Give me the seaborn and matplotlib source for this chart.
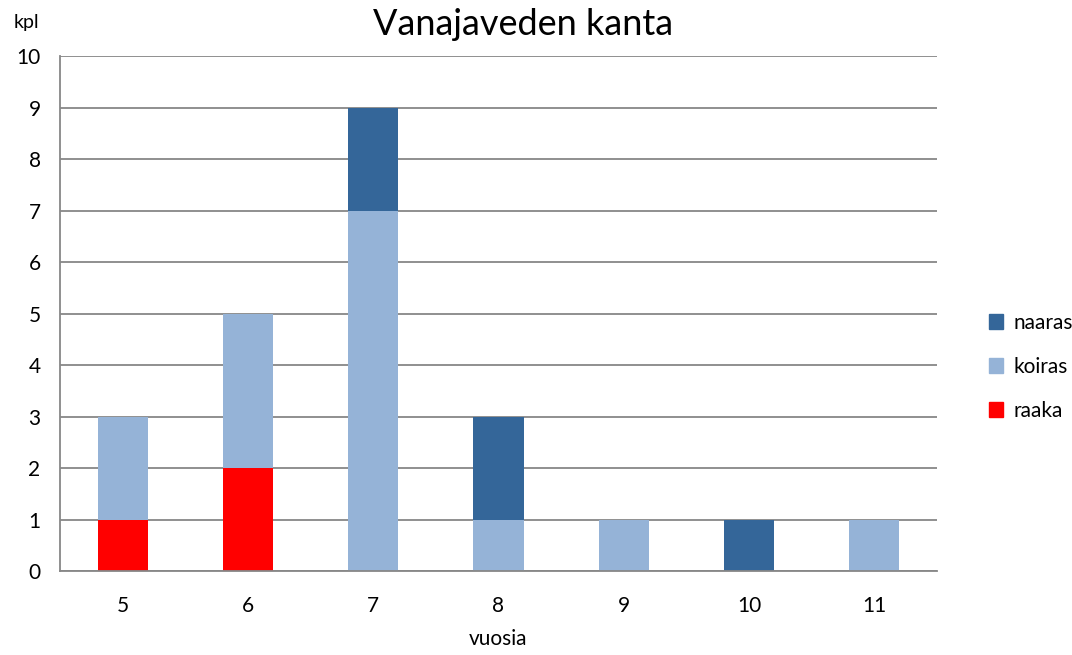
import matplotlib
matplotlib.use("Agg")
import matplotlib.pyplot as plt
import seaborn as sns
import pandas as pd
from matplotlib.patches import Patch

# data
ages = ["5", "6", "7", "8", "9", "10", "11"]
raaka = [1, 2, 0, 0, 0, 0, 0]
koiras = [2, 3, 7, 1, 1, 0, 1]
naaras = [0, 0, 2, 2, 0, 1, 0]

colors = {"naaras": "#346699", "koiras": "#95B3D7", "raaka": "#FF0000"}

sns.set_style("white")
plt.rcParams["font.family"] = ["Lato", "DejaVu Sans"]
plt.rcParams["text.color"] = "black"
plt.rcParams["xtick.labelcolor"] = "black"
plt.rcParams["ytick.labelcolor"] = "black"
plt.rcParams["axes.labelcolor"] = "black"

df = pd.DataFrame({"ika": ages, "raaka": raaka, "koiras": koiras, "naaras": naaras})
df["b_koiras"] = df["raaka"]
df["b_naaras"] = df["raaka"] + df["koiras"]

fig = plt.figure(figsize=(10.72, 6.55), dpi=100)
ax = fig.add_axes([0.056, 0.128, 0.818, 0.7865])

sns.barplot(data=df, x="ika", y="raaka", order=ages, color=colors["raaka"],
            width=0.4, ax=ax, linewidth=0, saturation=1)
sns.barplot(data=df, x="ika", y="koiras", order=ages, color=colors["koiras"],
            width=0.4, ax=ax, linewidth=0, saturation=1, bottom=df["b_koiras"])
sns.barplot(data=df, x="ika", y="naaras", order=ages, color=colors["naaras"],
            width=0.4, ax=ax, linewidth=0, saturation=1, bottom=df["b_naaras"])

grid_c = "#878787"
ax.set_ylim(0, 10)
ax.set_xlim(-0.5, len(ages) - 0.5)
ax.set_yticks(range(0, 11))
ax.yaxis.grid(True, color=grid_c, linewidth=1.3)
ax.set_axisbelow(True)
for s in ["top", "right"]:
    ax.spines[s].set_visible(False)
for s in ["left", "bottom"]:
    ax.spines[s].set_color(grid_c)
    ax.spines[s].set_linewidth(1.3)

ax.tick_params(axis="y", length=8, width=1.3, color=grid_c, labelsize=15, pad=6)
ax.tick_params(axis="x", which="major", length=0, labelsize=15, pad=18)
ax.set_xticks([i - 0.5 for i in range(len(ages) + 1)], minor=True)
ax.tick_params(axis="x", which="minor", length=8, width=1.3, color=grid_c)

ax.set_xlabel("vuosia", fontsize=15, labelpad=9)
ax.set_ylabel("")
fig.text(0.025, 0.966, "kpl", fontsize=14, ha="center", va="center")
fig.text(0.488, 0.963, "Vanajaveden kanta", fontsize=26, ha="center", va="center")

handles = [Patch(color=colors[k], label=k) for k in ["naaras", "koiras", "raaka"]]
fig.legend(handles=handles, loc="center left", bbox_to_anchor=(0.905, 0.44),
           frameon=False, fontsize=15, handlelength=0.7, handleheight=0.7,
           handletextpad=0.5, labelspacing=1.15)

fig.savefig("out.png", dpi=100)
